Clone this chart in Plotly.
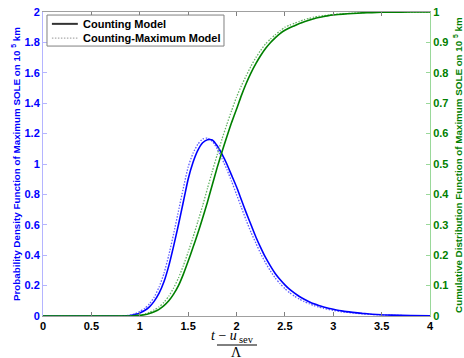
import plotly.graph_objects as go

# ---- data ----
x_grid = [0, 0.80, 0.85, 0.90, 0.95, 1.00, 1.05, 1.10, 1.15, 1.20, 1.25, 1.30, 1.35, 1.40,
          1.45, 1.50, 1.55, 1.60, 1.65, 1.70, 1.75, 1.80, 1.85, 1.90, 1.95, 2.00, 2.05,
          2.10, 2.15, 2.20, 2.25, 2.30, 2.35, 2.40, 2.45, 2.50, 2.55, 2.60, 2.65, 2.70,
          2.75, 2.80, 2.85, 2.90, 2.95, 3.00, 3.10, 3.20, 3.30, 3.40, 3.50, 3.60, 3.80, 4.00]

pdf_counting = [0, 0.000, 0.001, 0.003, 0.009, 0.020, 0.036, 0.060, 0.098, 0.150, 0.225,
                0.330, 0.460, 0.600, 0.750, 0.900, 1.010, 1.090, 1.140, 1.160, 1.158, 1.120,
                1.065, 1.000, 0.925, 0.850, 0.765, 0.680, 0.600, 0.520, 0.450, 0.385, 0.330,
                0.280, 0.240, 0.205, 0.175, 0.150, 0.128, 0.110, 0.094, 0.080, 0.069, 0.059,
                0.051, 0.044, 0.032, 0.024, 0.017, 0.012, 0.008, 0.006, 0.003, 0.001]
pdf_countmax = [0, 0.001, 0.002, 0.006, 0.015, 0.030, 0.050, 0.080, 0.125, 0.190, 0.280,
                0.400, 0.540, 0.690, 0.840, 0.980, 1.070, 1.130, 1.165, 1.170, 1.150, 1.100,
                1.035, 0.965, 0.885, 0.800, 0.715, 0.630, 0.550, 0.480, 0.410, 0.350, 0.297,
                0.250, 0.213, 0.180, 0.153, 0.130, 0.111, 0.095, 0.081, 0.069, 0.059, 0.050,
                0.043, 0.037, 0.027, 0.020, 0.014, 0.010, 0.007, 0.005, 0.002, 0.001]
cdf_counting = [0, 0.000, 0.000, 0.000, 0.001, 0.002, 0.004, 0.008, 0.014, 0.022, 0.034,
                0.050, 0.072, 0.100, 0.137, 0.180, 0.225, 0.272, 0.322, 0.375, 0.432, 0.488,
                0.540, 0.590, 0.637, 0.680, 0.725, 0.765, 0.800, 0.830, 0.857, 0.880, 0.899,
                0.915, 0.929, 0.940, 0.948, 0.955, 0.962, 0.968, 0.973, 0.978, 0.982, 0.985,
                0.988, 0.990, 0.993, 0.995, 0.997, 0.998, 0.999, 0.999, 1.000, 1.000]
cdf_countmax = [0, 0.000, 0.000, 0.001, 0.002, 0.003, 0.006, 0.012, 0.020, 0.030, 0.045,
                0.065, 0.092, 0.125, 0.165, 0.210, 0.258, 0.310, 0.363, 0.420, 0.476, 0.530,
                0.582, 0.630, 0.676, 0.720, 0.757, 0.790, 0.822, 0.850, 0.874, 0.895, 0.911,
                0.925, 0.938, 0.950, 0.957, 0.963, 0.969, 0.975, 0.979, 0.983, 0.986, 0.988,
                0.990, 0.992, 0.994, 0.996, 0.998, 0.999, 1.000, 1.000, 1.000, 1.000]

x_ticks = [0, 0.5, 1, 1.5, 2, 2.5, 3, 3.5, 4]
x_ticklabels = ["0", "0.5", "1", "1.5", "2", "2.5", "3", "3.5", "4"]
yl_ticks = [0, 0.2, 0.4, 0.6, 0.8, 1, 1.2, 1.4, 1.6, 1.8, 2]
yl_ticklabels = ["0", "0.2", "0.4", "0.6", "0.8", "1", "1.2", "1.4", "1.6", "1.8", "2"]
yr_ticks = [0, 0.1, 0.2, 0.3, 0.4, 0.5, 0.6, 0.7, 0.8, 0.9, 1]
yr_ticklabels = ["0", "0.1", "0.2", "0.3", "0.4", "0.5", "0.6", "0.7", "0.8", "0.9", "1"]

legend_names = ["Counting Model", "Counting-Maximum Model"]
left_title = "Probability Density Function of Maximum SOLE on 10 <sup>5</sup> km"
right_title = "Cumulative Distribution Function of Maximum SOLE on 10 <sup>5</sup> km"

BLUE = "#0000ff"
BLUE_DOT = "#5c5cff"
GREEN = "#008000"
GREEN_DOT = "#66b366"
FONT = "Liberation Sans, Arial, sans-serif"
SERIF = "Liberation Serif, DejaVu Serif, serif"
DOT = "1.5px,1.5px"

fig = go.Figure()

fig.add_trace(go.Scatter(x=x_grid, y=pdf_countmax, mode="lines", showlegend=False,
                         line=dict(color=BLUE_DOT, width=1.3, dash=DOT, shape="spline", smoothing=0.5)))
fig.add_trace(go.Scatter(x=x_grid, y=pdf_counting, mode="lines", showlegend=False,
                         line=dict(color=BLUE, width=1.6, shape="spline", smoothing=0.5)))
fig.add_trace(go.Scatter(x=x_grid, y=cdf_countmax, mode="lines", showlegend=False, yaxis="y2",
                         line=dict(color=GREEN_DOT, width=1.3, dash=DOT, shape="spline", smoothing=0.5)))
fig.add_trace(go.Scatter(x=x_grid, y=cdf_counting, mode="lines", showlegend=False, yaxis="y2",
                         line=dict(color=GREEN, width=1.6, shape="spline", smoothing=0.5)))

fig.update_layout(
    width=464, height=358,
    margin=dict(l=43, r=34, t=12, b=42),
    paper_bgcolor="white", plot_bgcolor="white",
    showlegend=False,
    font=dict(family=FONT, size=11, color="black", weight="bold"),
    xaxis=dict(range=[0, 4], tickvals=x_ticks, ticktext=x_ticklabels, automargin=False,
               showgrid=False, zeroline=False, showline=True, linecolor="#a0a0a0",
               linewidth=1, mirror="ticks", ticks="inside", ticklen=4, tickcolor="#808080",
               tickfont=dict(family=FONT, size=11, color="black", weight="bold")),
    yaxis=dict(range=[0, 2], tickvals=yl_ticks, ticktext=yl_ticklabels, automargin=False,
               showgrid=False, zeroline=False, showline=True, linecolor="#b4b4ff",
               linewidth=1, ticks="inside", ticklen=4, tickcolor="#b4b4ff",
               tickfont=dict(family=FONT, size=11, color=BLUE, weight="bold")),
    yaxis2=dict(range=[0, 1], tickvals=yr_ticks, ticktext=yr_ticklabels, overlaying="y",
                side="right", anchor="x", automargin=False,
                showgrid=False, zeroline=False, showline=True, linecolor="#9ad89a",
                linewidth=1, ticks="inside", ticklen=4, tickcolor="#9ad89a",
                tickfont=dict(family=FONT, size=11, color=GREEN, weight="bold")),
)

# axis titles as rotated annotations
fig.add_annotation(x=-0.0698, y=0.5, xref="paper", yref="paper", textangle=-90,
                   text=left_title, showarrow=False, xanchor="center", yanchor="middle",
                   font=dict(family=FONT, size=9.8, color=BLUE, weight="bold"))
fig.add_annotation(x=1.0724, y=0.497, xref="paper", yref="paper", textangle=-90,
                   text=right_title, showarrow=False, xanchor="center", yanchor="middle",
                   font=dict(family=FONT, size=9.8, color=GREEN, weight="bold"))

# custom legend
fig.add_shape(type="rect", xref="paper", yref="paper", x0=0.0103, x1=0.4677, y0=0.888, y1=0.990,
              line=dict(color="#808080", width=1), fillcolor="white", layer="above")
fig.add_shape(type="line", xref="paper", yref="paper", x0=0.023, x1=0.090, y0=0.961, y1=0.961,
              line=dict(color="#333333", width=2), layer="above")
fig.add_shape(type="line", xref="paper", yref="paper", x0=0.023, x1=0.090, y0=0.914, y1=0.914,
              line=dict(color="#aaaaaa", width=1.3, dash=DOT), layer="above")
fig.add_annotation(x=0.098, y=0.961, xref="paper", yref="paper", xanchor="left", yanchor="middle",
                   text=legend_names[0], showarrow=False,
                   font=dict(family=FONT, size=11, color="black", weight="bold"))
fig.add_annotation(x=0.098, y=0.914, xref="paper", yref="paper", xanchor="left", yanchor="middle",
                   text=legend_names[1], showarrow=False,
                   font=dict(family=FONT, size=11, color="black", weight="bold"))

# fraction title for x axis: (t - u_sev) / Λ
fig.add_annotation(x=0.5039, xref="paper", y=-0.0625, yref="paper", xanchor="right", yanchor="middle",
                   text="<i>t</i> − <i>u</i>", showarrow=False, borderpad=0,
                   font=dict(family=SERIF, size=14, color="black", weight="normal"))
fig.add_annotation(x=0.5039, xref="paper", y=-0.0757, yref="paper", xanchor="left", yanchor="middle",
                   text="sev", showarrow=False, borderpad=0,
                   font=dict(family=SERIF, size=10.5, color="black", weight="normal"))
fig.add_shape(type="line", xref="paper", yref="paper", x0=0.4496, x1=0.553, y0=-0.0954, y1=-0.0954,
              line=dict(color="black", width=1))
fig.add_annotation(x=0.5, xref="paper", y=-0.1217, yref="paper", yanchor="middle",
                   text="Λ", showarrow=False, borderpad=0,
                   font=dict(family=SERIF, size=14, color="black", weight="normal"))

fig.write_html("out.html")
